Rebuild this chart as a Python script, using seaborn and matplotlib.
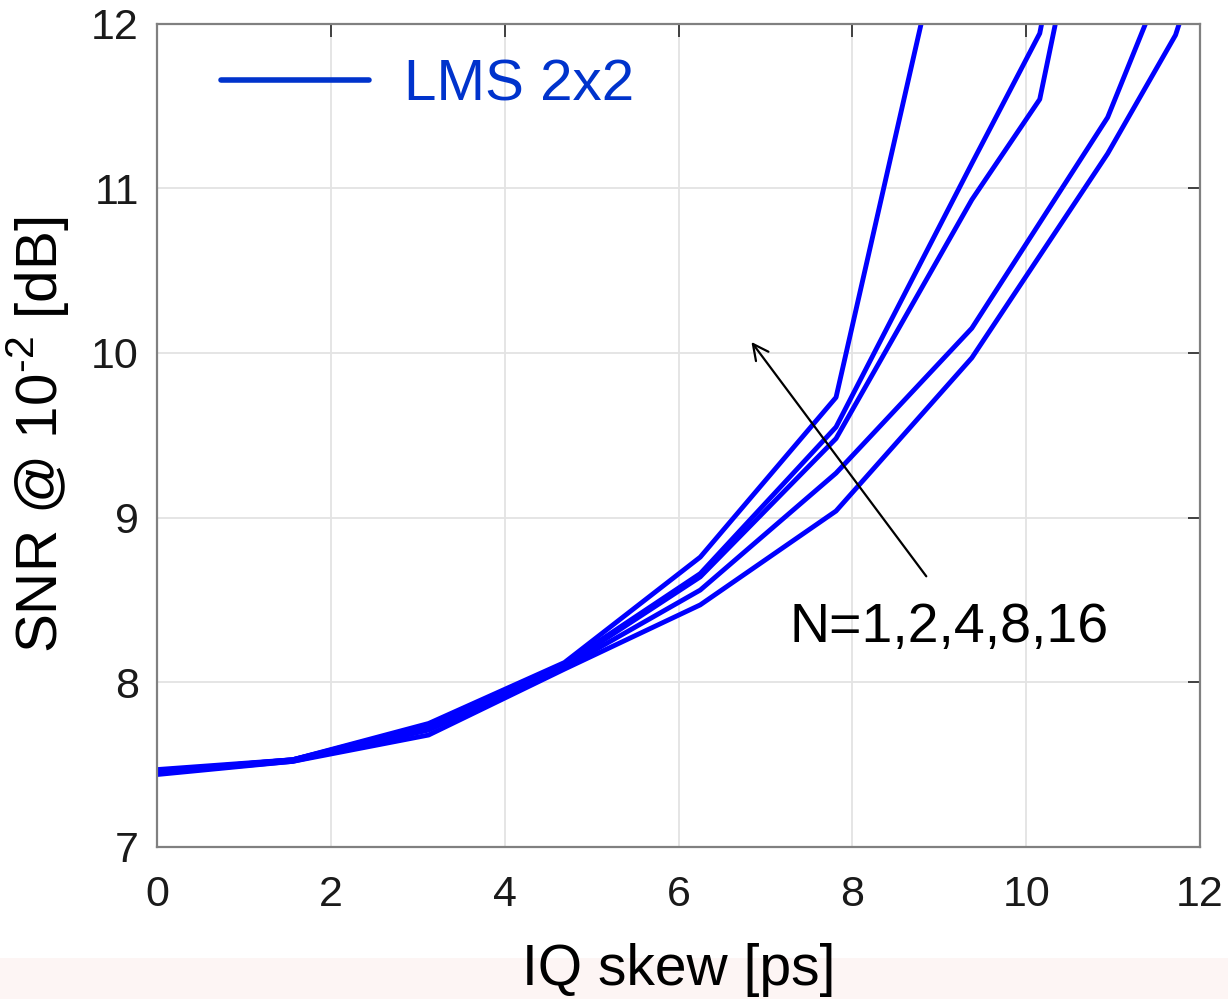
import numpy as np
import pandas as pd
import matplotlib
matplotlib.use("Agg")
import matplotlib.pyplot as plt
import seaborn as sns
from matplotlib.lines import Line2D
from matplotlib.patches import Rectangle

# ---- data ----
x_common = [0.0, 1.5625, 3.125, 4.6875, 6.25, 7.8125]
x_n1 = x_common + [9.375, 10.9375, 11.71875, 12.5]
y_n1 = [7.44, 7.52, 7.68, 8.08, 8.47, 9.04, 9.97, 11.21, 11.93, 13.2]
x_n2 = x_common + [9.375, 10.9375, 11.71875]
y_n2 = [7.45, 7.52, 7.71, 8.09, 8.56, 9.27, 10.15, 11.43, 12.45]
x_n4 = x_common + [9.375, 10.15625, 10.9375]
y_n4 = [7.46, 7.53, 7.73, 8.10, 8.64, 9.48, 10.93, 11.54, 13.53]
x_n8 = x_common + [9.375, 10.15625, 10.9375]
y_n8 = [7.46, 7.53, 7.74, 8.11, 8.66, 9.55, 11.15, 11.94, 14.0]
x_n16 = x_common + [9.375]
y_n16 = [7.47, 7.53, 7.75, 8.12, 8.76, 9.73, 13.35]
series_names = ["1", "2", "4", "8", "16"]

x_ticks = [0, 2, 4, 6, 8, 10, 12]
y_ticks = [7, 8, 9, 10, 11, 12]
legend_label = "LMS 2x2"
annot_text = "N=1,2,4,8,16"

frames = []
for name, xs, ys in zip(series_names, [x_n1, x_n2, x_n4, x_n8, x_n16],
                        [y_n1, y_n2, y_n4, y_n8, y_n16]):
    frames.append(pd.DataFrame({"skew": xs, "snr": ys, "N": name}))
df = pd.concat(frames, ignore_index=True)

sns.set_theme(style="white")
plt.rcParams["font.family"] = ["Liberation Sans", "DejaVu Sans"]
plt.rcParams["mathtext.fontset"] = "custom"
plt.rcParams["mathtext.rm"] = "Liberation Sans"

fig = plt.figure(figsize=(12.28, 9.99), dpi=100)
fig.patches.append(Rectangle((0, 0), 1, 41 / 999, transform=fig.transFigure,
                             facecolor="#fdf5f4", edgecolor="none", zorder=-10))
ax = fig.add_axes([157 / 1228, 1 - 847 / 999, (1200 - 157) / 1228, (847 - 23.5) / 999])

sns.lineplot(data=df, x="skew", y="snr", hue="N", palette=["#0000ff"] * 5,
             estimator=None, sort=False, legend=False, linewidth=3.5, ax=ax)

ax.set_xlim(0, 12)
ax.set_ylim(7, 12)
ax.set_xticks(x_ticks)
ax.set_yticks(y_ticks)
ax.grid(True, color="#e3e3e3", linewidth=1.3)
for sp in ax.spines.values():
    sp.set_color("#808080")
    sp.set_linewidth(1.6)
ax.tick_params(axis="both", which="both", direction="in", length=9, width=1.4,
               color="#404040", top=True, right=True, labelsize=31,
               labelcolor="#1a1a1a")
ax.tick_params(axis="x", pad=20)
ax.tick_params(axis="y", pad=13)

ax.set_xlabel("IQ skew [ps]", fontsize=41, labelpad=20, color="black")
ax.set_ylabel("SNR @ 10$^{\\mathregular{\u20102}}$ [dB]", fontsize=42, labelpad=14,
              color="black")

ax.annotate("", xy=(6.82, 10.08), xytext=(8.87, 8.63),
            arrowprops=dict(arrowstyle="->", color="black", lw=1.6,
                            mutation_scale=28))
ax.text(9.11, 8.33, annot_text, fontsize=40, ha="center", va="center", color="black")

handle = Line2D([], [], color="#0033cc", linewidth=4)
leg = ax.legend([handle], [legend_label], loc="upper left",
                bbox_to_anchor=(0.061, 0.957), frameon=False, fontsize=42,
                handlelength=2.55, handletextpad=0.6, borderpad=0, borderaxespad=0,
                labelcolor="#0033cc")

fig.savefig("out.png", dpi=100)
